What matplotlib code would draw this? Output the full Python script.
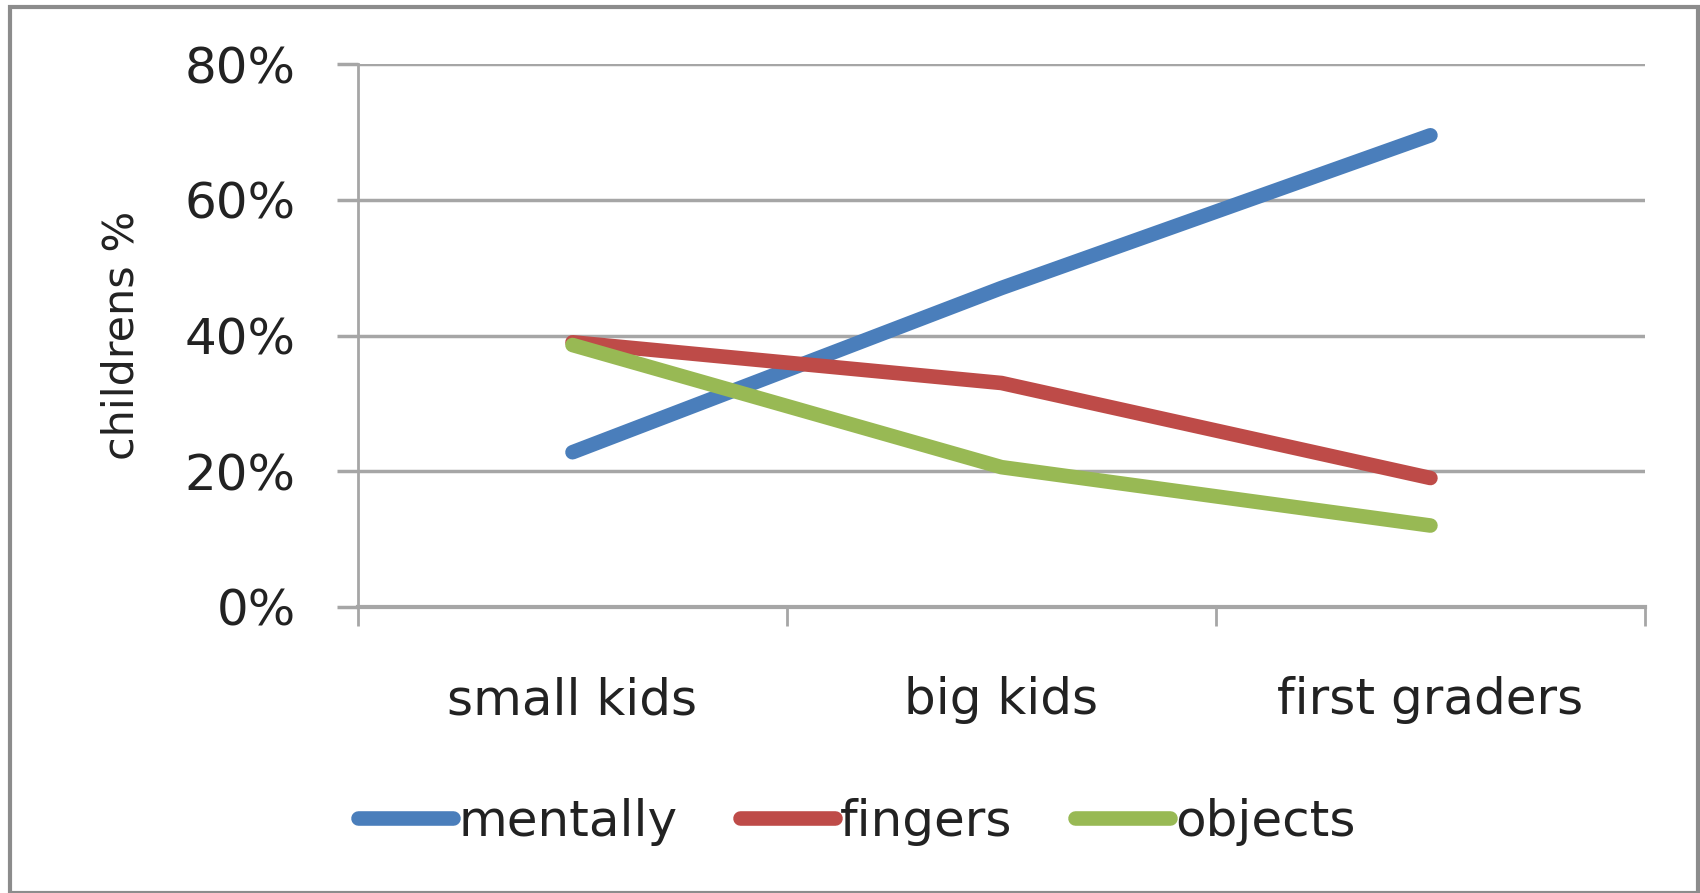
import matplotlib
matplotlib.use('Agg')
import matplotlib.pyplot as plt
from matplotlib.patches import Rectangle
from matplotlib.ticker import PercentFormatter

plt.rcParams['font.family'] = ['DejaVu Sans']

groups = ['small kids', 'big kids', 'first graders']
mentally = [22.8, 47.0, 69.5]
fingers = [39.0, 33.0, 19.0]
objects = [38.6, 20.6, 12.0]
yticks = [0, 20, 40, 60, 80]

fig = plt.figure(figsize=(17, 8.93), dpi=100)
ax = fig.add_axes([0.2106, 0.3203, 0.757, 0.608])

xpos = [i + 0.5 for i in range(len(groups))]
ax.plot(xpos, mentally, color='#4A7EBB', lw=10.5, solid_capstyle='round', solid_joinstyle='round', label='mentally', zorder=3)
ax.plot(xpos, fingers, color='#BE4B48', lw=10.5, solid_capstyle='round', solid_joinstyle='round', label='fingers', zorder=3)
ax.plot(xpos, objects, color='#98B954', lw=10.5, solid_capstyle='round', solid_joinstyle='round', label='objects', zorder=3)

ax.set_xlim(0, 3)
ax.set_ylim(0, 80)
ax.set_yticks(yticks)
ax.yaxis.set_major_formatter(PercentFormatter(decimals=0))
ax.set_xticks([0, 1, 2, 3])
ax.set_xticklabels([])
ax.set_xticks(xpos, minor=True)
ax.set_xticklabels(groups, minor=True, fontsize=36, color='#222222')
ax.tick_params(axis='x', which='minor', length=0, pad=50)
ax.tick_params(axis='x', which='major', length=14, width=2, color='#A6A6A6')
ax.tick_params(axis='y', length=15, width=2.5, color='#A6A6A6', labelsize=36, labelcolor='#222222', pad=30)
ax.grid(axis='y', color='#A6A6A6', lw=2.5)
ax.set_axisbelow(True)
for s in ['top', 'right']:
    ax.spines[s].set_visible(False)
for s in ['left', 'bottom']:
    ax.spines[s].set_color('#A6A6A6')
ax.spines['left'].set_linewidth(2)
ax.spines['bottom'].set_linewidth(3)
ax.set_ylabel('childrens %', fontsize=31, color='#222222', labelpad=30)

fig.legend(loc='center', bbox_to_anchor=(0.504, 0.08), ncol=3, frameon=False,
           fontsize=36, handlelength=1.9, handletextpad=0.1, columnspacing=1.25,
           labelcolor='#222222')

fig.patches.append(Rectangle((0.006, 0.0), 0.993, 0.992, transform=fig.transFigure,
                             fill=False, edgecolor='#8C8C8C', lw=3))

fig.savefig('out.png', dpi=100)
